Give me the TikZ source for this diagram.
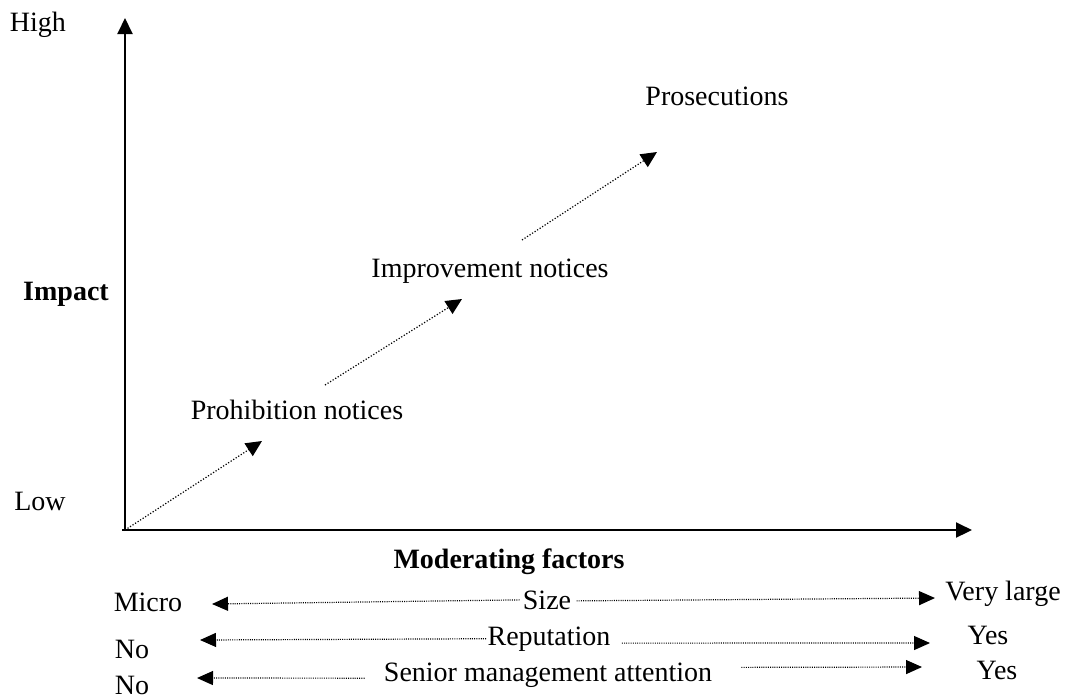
\documentclass[tikz,border=0pt]{standalone}
\usepackage{fontspec}
\setmainfont{Liberation Serif}
\usetikzlibrary{arrows.meta, positioning}
\tikzset{
	txt/.style={
		inner sep=0.5pt,
		anchor=base,
		font=\fontsize{14}{17}\selectfont,
	},
	axis/.style={line width=1pt, -{Triangle[length=8pt,width=7.5pt]}},
	trend/.style={line width=0.6pt, dash pattern=on 0.6pt off 0.9pt, -{Triangle[length=8pt,width=7.5pt]}},
	factor/.style={line width=0.6pt, dash pattern=on 0.5pt off 0.6pt, -{Triangle[length=8pt,width=7pt]}},
}

\begin{document}
\begin{tikzpicture}[x=0.5pt,y=-0.5pt]
	\useasboundingbox (0,0) rectangle (1068,698);
	% axes
	\coordinate (O) at (125,530);
	\coordinate (top) at (125,18);
	\coordinate (right) at (972,530);
	\draw[axis] ([yshift=-0.5pt]O) -- (top);
	\draw[axis] ([xshift=-1.5pt]O) -- (right);

	\node[txt] (high) at (38,31) {High};
	\node[txt] (low) at (40,510) {Low};
	\node[txt, font=\fontsize{14}{17}\selectfont\bfseries] (impact) at (66,300) {Impact};

	% enforcement steps
	\node[txt] (prohib) at (297,419) {Prohibition notices};
	\node[txt] (improv) at (490,277) {Improvement notices};
	\node[txt] (prosec) at (717,105) {Prosecutions};

	\coordinate (p1) at (262,441);
	\coordinate (p2s) at (325,385);
	\coordinate (p2) at (462,299);
	\coordinate (p3s) at (522,240);
	\coordinate (p3) at (657,152);
	\draw[trend] (O) -- (p1);
	\draw[trend] (p2s) -- (p2);
	\draw[trend] (p3s) -- (p3);

	% moderating factors
	\node[txt, font=\fontsize{14}{17}\selectfont\bfseries] (mod) at (509,568) {Moderating factors};

	\node[txt] (size) at (547,609) {Size};
	\node[txt] (micro) at (148,611) {Micro};
	\node[txt] (vlarge) at (1003,600) {Very large};
	\coordinate (sizeL) at (212,604);
	\coordinate (sizeR) at (935,598);
	\draw[factor] ([xshift=-1pt]size.west) -- (sizeL);
	\draw[factor] ([xshift=2pt,yshift=-0.5pt]size.east) -- (sizeR);

	\node[txt] (rep) at (549,645) {Reputation};
	\node[txt] (repno) at (132,658) {No};
	\node[txt] (repyes) at (988,644) {Yes};
	\coordinate (repL) at (200,640);
	\coordinate (repR) at (930,643);
	\draw[factor] (rep.west) -- (repL);
	\draw[factor] ([xshift=5pt,yshift=-2.2pt]rep.east) -- (repR);

	\node[txt] (senior) at (548,681) {Senior management attention};
	\node[txt, inner sep=0pt] (srno) at (132,694) {No};
	\node[txt] (sryes) at (997,679) {Yes};
	\coordinate (srL) at (197,678);
	\coordinate (srR) at (922,667);
	\draw[factor] ([xshift=-9pt,yshift=-1.7pt]senior.west) -- (srL);
	\draw[factor] ([xshift=14pt,yshift=3.7pt]senior.east) -- (srR);
\end{tikzpicture}
\end{document}
